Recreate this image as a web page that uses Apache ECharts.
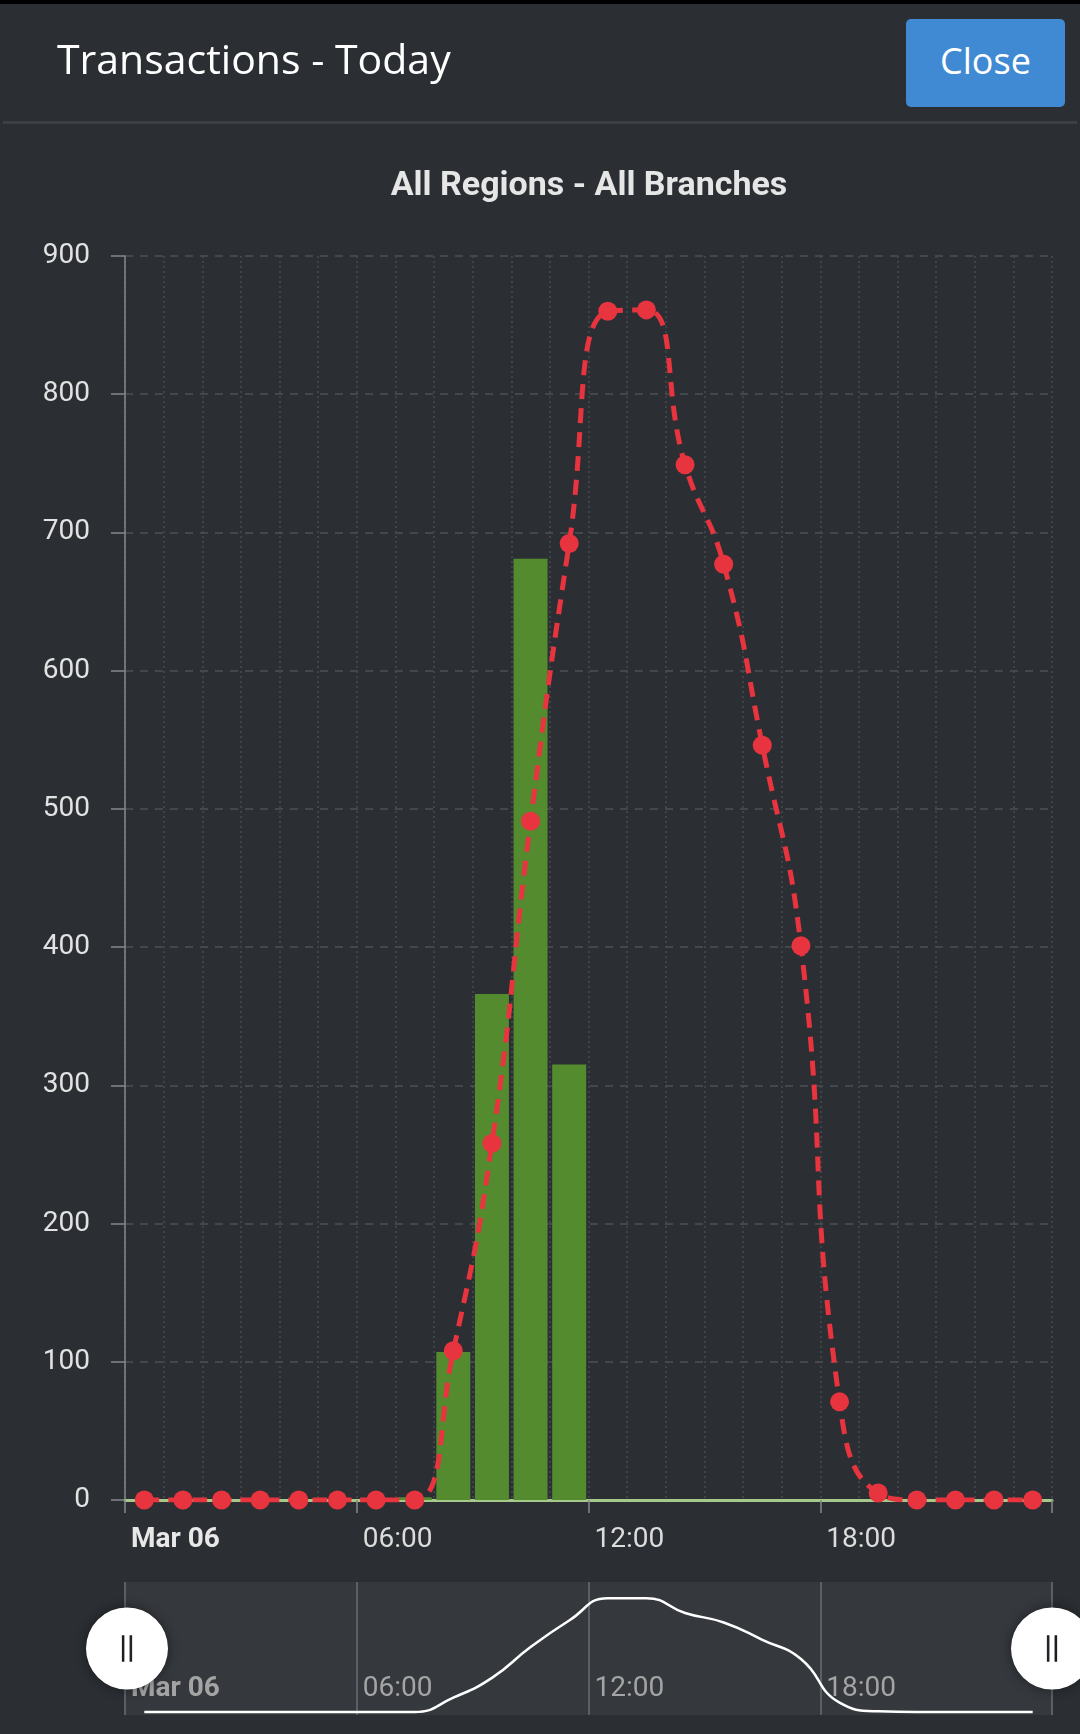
<!DOCTYPE html>
<html>
<head>
<meta charset="utf-8">
<script src="https://cdn.jsdelivr.net/npm/echarts@6/dist/echarts.min.js"></script>
<style>
html,body{margin:0;padding:0;background:#2b2f33;width:1080px;height:1734px;overflow:hidden;}
#chart{position:absolute;left:0;top:0;width:1080px;height:1734px;}
#topbar{position:absolute;left:0;top:0;width:1080px;height:4px;background:#000;}
#title{position:absolute;left:57px;top:38px;font-family:'Open Sans',sans-serif;font-size:41px;line-height:41px;color:#fff;white-space:nowrap;}
#close{position:absolute;left:906px;top:19px;width:159px;height:88px;box-sizing:border-box;padding-bottom:6px;background:#3f8ad2;border-radius:5px;color:#fff;font-family:'Open Sans',sans-serif;font-size:36px;display:flex;align-items:center;justify-content:center;}
#divider{position:absolute;left:3px;right:3px;top:121px;height:3px;background:#3b3f44;}
</style>
</head>
<body>
<div id="chart"></div>
<div id="topbar"></div>
<div id="title">Transactions - Today</div>
<div id="close">Close</div>
<div id="divider"></div>
<script>
// ---- data ----
const slots = ['00:30','01:30','02:30','03:30','04:30','05:30','06:30','07:30','08:30','09:30','10:30','11:30',
               '12:30','13:30','14:30','15:30','16:30','17:30','18:30','19:30','20:30','21:30','22:30','23:30'];
const barValues = [0,0,0,0,0,0,0,2,107,366,681,315,0,0,0,0,0,0,0,0,0,0,0,0];
const lineValues = [0,0,0,0,0,0,0,0,108,258,491,692,860,861,749,677,546,401,71,5,0,0,0,0];
const xTickLabels = ['Mar 06','06:00','12:00','18:00'];
const subtitle = 'All Regions - All Branches';
const yMax = 900, yStep = 100;

// ---- build ----
const toHour = s => { const p = s.split(':'); return +p[0] + (+p[1]) / 60; };
const barData = slots.map((s, i) => [toHour(s), barValues[i]]);
const lineData = slots.map((s, i) => [toHour(s), lineValues[i]]);

function tickFmt(v) {
  const i = Math.round(v / 6);
  if (i >= xTickLabels.length) return '';
  return (i === 0 ? '{b|' : '{n|') + xTickLabels[i] + '}';
}

const chart = echarts.init(document.getElementById('chart'), null, {renderer: 'canvas'});
const dotted = {color: '#484c52', type: [2, 3], width: 1.5};
const handleStyle = {color: '#ffffff', borderWidth: 0, shadowBlur: 12, shadowColor: 'rgba(0,0,0,0.45)'};

chart.setOption({
  backgroundColor: 'transparent',
  animation: false,
  title: {
    text: subtitle,
    left: 584, top: 164, textAlign: 'center',
    textStyle: {fontFamily: 'Roboto', fontWeight: 'bold', fontSize: 34, color: '#e6e6e6'}
  },
  grid: [
    {left: 125, right: 28, top: 256, bottom: 234, containLabel: false, outerBoundsMode: 'none'},
    {left: 125, right: 28, top: 1582, height: 133, show: true, backgroundColor: '#35383d', borderWidth: 0, containLabel: false, outerBoundsMode: 'none'}
  ],
  xAxis: [
    {
      type: 'value', gridIndex: 0, min: 0, max: 24, interval: 6,
      axisLine: {show: true, onZero: true, lineStyle: {color: '#a6c98b', width: 3}},
      axisTick: {show: true, length: 13, lineStyle: {color: '#85888c', width: 1.5}},
      minorTick: {show: false, splitNumber: 6},
      splitLine: {show: true, lineStyle: dotted},
      minorSplitLine: {show: true, lineStyle: dotted},
      axisLabel: {
        align: 'left', margin: 26, formatter: tickFmt,
        rich: {
          b: {fontFamily: 'Roboto', fontWeight: 'bold', fontSize: 28, color: '#e8e8e8', padding: [0, 0, 0, 6]},
          n: {fontFamily: 'Roboto', fontSize: 28, color: '#dcdcdc', padding: [0, 0, 0, 6]}
        }
      }
    },
    {
      type: 'value', gridIndex: 1, min: 0, max: 24, interval: 6,
      axisLine: {show: false}, axisTick: {show: false},
      splitLine: {show: true, lineStyle: {color: '#5c6065', width: 2}},
      axisLabel: {
        inside: true, align: 'left', margin: 12, formatter: tickFmt,
        rich: {
          b: {fontFamily: 'Roboto', fontWeight: 'bold', fontSize: 28, color: '#a4a4a4', padding: [0, 0, 0, 6]},
          n: {fontFamily: 'Roboto', fontSize: 28, color: '#a4a4a4', padding: [0, 0, 0, 6]}
        }
      }
    }
  ],
  yAxis: [
    {
      type: 'value', gridIndex: 0, min: 0, max: yMax, interval: yStep,
      axisLine: {show: true, lineStyle: {color: '#85888c', width: 1.5}},
      axisTick: {show: true, length: 14, lineStyle: {color: '#85888c', width: 1.5}},
      axisLabel: {fontFamily: 'Roboto', fontSize: 28, color: '#e2e2e2', margin: 35, padding: [5, 0, 0, 0]},
      splitLine: {show: true, lineStyle: {color: '#4d5156', type: [8, 7], width: 1.5}}
    },
    {type: 'value', gridIndex: 1, min: -23, max: 983, show: false, splitLine: {show: false}}
  ],
  dataZoom: [{
    type: 'slider', xAxisIndex: 0, start: 0, end: 100,
    left: 125, right: 28, top: 1582, height: 133,
    backgroundColor: 'rgba(0,0,0,0)', borderColor: 'rgba(0,0,0,0)', fillerColor: 'rgba(0,0,0,0)',
    showDataShadow: false, showDetail: false, brushSelect: false, moveHandleSize: 0,
    handleIcon: 'path://M0,-40A40,40,0,1,1,0,40A40,40,0,1,1,0,-40Z M-5,-13L-5,13L-2.5,13L-2.5,-13Z M2.5,-13L2.5,13L5,13L5,-13Z',
    handleSize: 82,
    handleStyle: handleStyle,
    emphasis: {handleStyle: handleStyle}
  }],
  series: [
    {
      type: 'bar', xAxisIndex: 0, yAxisIndex: 0, data: barData, barWidth: 34,
      itemStyle: {color: '#548b2f'}, silent: true
    },
    {
      type: 'line', xAxisIndex: 0, yAxisIndex: 0, data: lineData, smooth: true,
      symbol: 'circle', symbolSize: 19,
      itemStyle: {color: '#e8343f'},
      lineStyle: {color: '#e8343f', width: 5, type: [15, 9]}
    },
    {
      type: 'line', xAxisIndex: 1, yAxisIndex: 1, data: lineData, smooth: true,
      showSymbol: false, silent: true,
      lineStyle: {color: '#ffffff', width: 2.5}
    }
  ]
});
</script>
</body>
</html>
